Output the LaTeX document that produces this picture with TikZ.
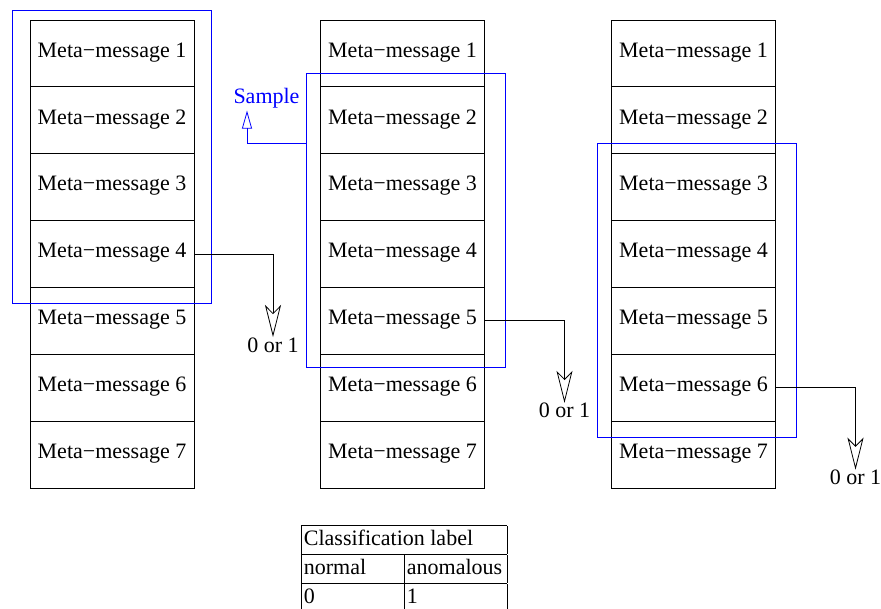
\documentclass[tikz,border=0pt]{standalone}
\usepackage{fontspec}
\setmainfont{Liberation Serif}
\usepackage{tikz}
\usetikzlibrary{positioning}
\usetikzlibrary{fit}
\usetikzlibrary{arrows.meta}
\tikzset{
    sampling diagram/.style={
            x=1pt,y=-1pt,line width=0.8pt,
            font=\fontsize{22}{26}\selectfont,
            msg/.style={draw,outer sep=0pt,minimum width=164pt,minimum height=66.86pt,text height=15pt,text depth=7.5pt},
            window/.style={draw=blue,inner xsep=17.5pt,inner ysep=13pt},
            outarrow/.style={-{Stealth[open,length=32pt,width=16pt,inset=8pt]}},
            samplearrow/.style={blue,-{Triangle[open,length=18pt,width=10pt]}},
            outlabel/.style={anchor=north,inner sep=0pt}
        }
    }

\begin{document}
\begin{tikzpicture}[sampling diagram]
    \useasboundingbox (0,0) rectangle (881,608);
    \foreach \c/\x in {1/112,2/402.5,3/693.5} {
        \node [msg] (c\c m1) at (\x,53.43) {Meta−message 1};
        \foreach \i [remember=\i as \p (initially 1)] in {2,...,7}
            \node [msg, below=0pt of c\c m\p] (c\c m\i) {Meta−message \i};
    }
    \node [window, fit=(c1m1)(c1m4), yshift=-3pt, xshift=-0.5pt] (win1) {};
    \node [window, fit=(c2m2)(c2m5), xshift=3pt] (win2) {};
    \node [window, fit=(c3m3)(c3m6), yshift=-3pt, xshift=3pt] (win3) {};
    \node [blue, inner sep=0pt] (sample) at (266.5,98.2) {Sample};
    \coordinate (sampletip) at ([xshift=-19.5pt,yshift=-2pt]sample.south);
    \draw [samplearrow] ([yshift=-70pt]win2.north west) -| (sampletip);
    \node [outlabel] (out1) at ([xshift=79pt,yshift=-83pt]c1m4.east) {0 or 1};
    \node [outlabel] (out2) at ([xshift=80pt,yshift=-82pt]c2m5.east) {0 or 1};
    \node [outlabel] (out3) at ([xshift=80pt,yshift=-82pt]c3m6.east) {0 or 1};
    \draw [outarrow] (c1m4.east) -| (out1.north);
    \draw [outarrow] (c2m5.east) -| (out2.north);
    \draw [outarrow] (c3m6.east) -| (out3.north);
    \node [anchor=north west, inner sep=0pt] (labels) at (300.5,524.3) {%
        \setlength{\tabcolsep}{3pt}\setlength{\arrayrulewidth}{0.8pt}%
        \renewcommand{\arraystretch}{1.09}%
        \begin{tabular}{|p{97pt}|p{97pt}|}
            \hline
            \multicolumn{2}{|l|}{Classification label} \\ \hline
            normal & anomalous \\ \hline
            0 & 1 \\ \hline
        \end{tabular}};
\end{tikzpicture}
\end{document}
